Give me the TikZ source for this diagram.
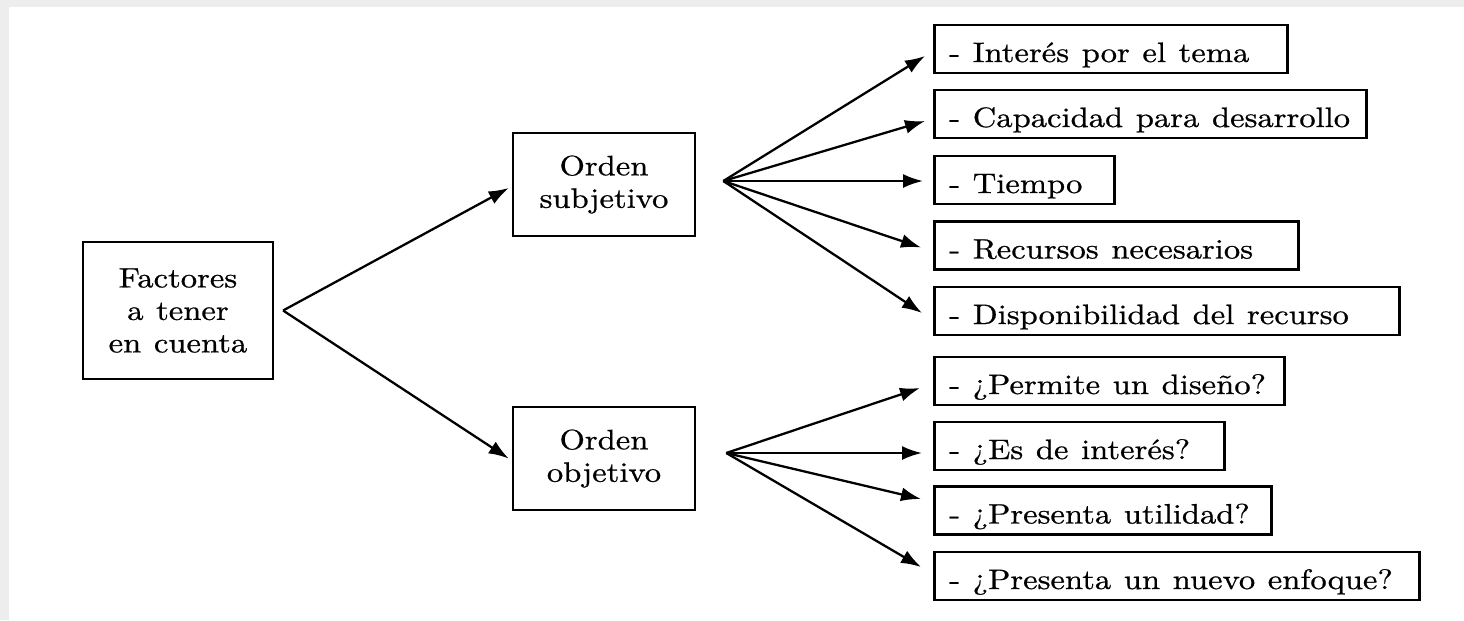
\documentclass[tikz,border=0pt]{standalone}
\usepackage{fontspec}
\setmainfont{lmroman10-regular}[Extension=.otf, FakeStretch=1.16, FakeBold=0.7]
\usepackage{tikz}
\usetikzlibrary{shapes.geometric, arrows.meta, positioning}
\definecolor{fondo}{HTML}{EDEDED}
\newcommand{\letra}{\fontsize{16}{18.5}\selectfont\spaceskip=0.45em plus 0.1em\relax}
\tikzstyle{arrow} = [draw, -{Latex[length=0.4cm, width=0.28cm]}, line width=1.3pt]
\tikzstyle{factorbox} = [draw, line width=1.5pt, align=center, inner sep=0pt]
\tikzstyle{itembox} = [draw, line width=1.5pt, anchor=west, align=left, minimum height=0.96cm, inner xsep=0.3cm, inner ysep=0pt, text height=0.6cm, text depth=0.08cm, execute at begin node={\spaceskip=0.45em plus 0.1em\relax}]

\begin{document}
\begin{tikzpicture}[x=0.02cm, y=-0.02cm, every node/.style={font=\letra}]
	\useasboundingbox (0,0) rectangle (1464,620);
	\fill[fondo] (0,0) rectangle (1464,620);
	\fill[white] (9,7) rectangle (1464,620);

	% cajas principales
	\node[factorbox, minimum width=3.8cm, minimum height=2.74cm] (fac) at (178,310.5) {Factores\\a tener\\en cuenta};
	\node[factorbox, minimum width=3.64cm, minimum height=2.06cm] (sub) at (604,184.5) {Orden\\subjetivo};
	\node[factorbox, minimum width=3.64cm, minimum height=2.06cm] (obj) at (604,458.5) {Orden\\objetivo};

	% orden subjetivo
	\node[itembox, text width=6.46cm] (i1) at (933,49) {\mbox{- Interés por el tema}};
	\node[itembox, text width=8.04cm] (i2) at (933,114) {\mbox{- Capacidad para desarrollo}};
	\node[itembox, text width=3.0cm] (i3) at (933,180) {\mbox{- Tiempo}};
	\node[itembox, text width=6.68cm] (i4) at (933,245.5) {\mbox{- Recursos necesarios}};
	\node[itembox, text width=8.7cm] (i5) at (933,311) {\mbox{- Disponibilidad del recurso}};

	% orden objetivo
	\node[itembox, text width=6.4cm] (i6) at (933,381) {\mbox{- ¿Permite un diseño?}};
	\node[itembox, text width=5.2cm] (i7) at (933,446) {\mbox{- ¿Es de interés?}};
	\node[itembox, text width=6.14cm] (i8) at (933,510.5) {\mbox{- ¿Presenta utilidad?}};
	\node[itembox, text width=9.1cm] (i9) at (933,576) {\mbox{- ¿Presenta un nuevo enfoque?}};

	\coordinate (ffac) at ([xshift=5]fac.east);
	\coordinate (fsub) at ([shift={(27,-3.5)}]sub.east);
	\coordinate (fobj) at ([shift={(30,-5.5)}]obj.east);

	\draw[arrow] (ffac) -- ([shift={(-3,3.5)}]sub.west);
	\draw[arrow] (ffac) -- ([shift={(-3,0)}]obj.west);

	\draw[arrow] (fsub) -- ([shift={(-8,7)}]i1.west);
	\draw[arrow] (fsub) -- ([shift={(-8,7)}]i2.west);
	\draw[arrow] (fsub) -- ([shift={(-10,1)}]i3.west);
	\draw[arrow] (fsub) -- ([shift={(-12,2)}]i4.west);
	\draw[arrow] (fsub) -- ([shift={(-11,2)}]i5.west);

	\draw[arrow] (fobj) -- ([shift={(-13,7)}]i6.west);
	\draw[arrow] (fobj) -- ([shift={(-11,7)}]i7.west);
	\draw[arrow] (fobj) -- ([shift={(-12,-11.5)}]i8.west);
	\draw[arrow] (fobj) -- ([shift={(-12,-9)}]i9.west);
\end{tikzpicture}
\end{document}
